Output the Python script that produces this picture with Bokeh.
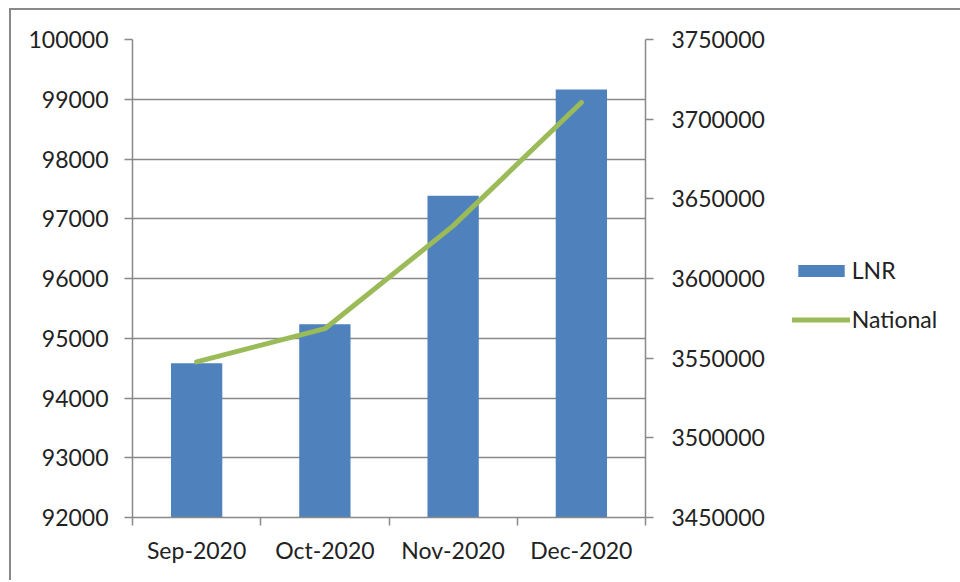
from bokeh.plotting import figure
from bokeh.models import (Range1d, LinearAxis, FixedTicker, BasicTickFormatter,
                          Legend, LegendItem, ColumnDataSource)
from bokeh.embed import file_html
from bokeh.resources import INLINE
import numpy as np

months = ["Sep-2020", "Oct-2020", "Nov-2020", "Dec-2020"]
lnr = [94580, 95235, 97385, 99165]
national = [3547700, 3568500, 3633000, 3710500]
left_ticks = [92000, 93000, 94000, 95000, 96000, 97000, 98000, 99000, 100000]
right_ticks = [3450000, 3500000, 3550000, 3600000, 3650000, 3700000, 3750000]

FONT = "Lato"
FS = "23px"
TXT = "#222222"
GRID = "#898989"
BAR = "#4F81BD"
LINE = "#9BBB59"

xpos = np.arange(len(months)) + 0.5
src = ColumnDataSource(dict(x=xpos, lnr=lnr, nat=national, m=months))

p = figure(frame_width=513, frame_height=478, output_backend="svg", toolbar_location=None,
           x_range=Range1d(0, len(months)),
           y_range=Range1d(left_ticks[0], left_ticks[-1]),
           min_border_left=121, min_border_right=0, min_border_top=29,
           min_border_bottom=63, x_axis_location=None, y_axis_location=None,
           styles={"margin": "8px 0 0 9px",
                   "border-left": f"2px solid {GRID}",
                   "border-top": f"2px solid {GRID}"})
p.outline_line_color = None
p.extra_y_ranges = {"nat": Range1d(right_ticks[0], right_ticks[-1])}

def style_axis(ax):
    ax.axis_line_color = GRID
    ax.axis_line_width = 1.5
    ax.major_tick_line_color = GRID
    ax.major_tick_line_width = 1.5
    ax.major_tick_in = 0
    ax.major_tick_out = 8
    ax.minor_tick_line_color = None
    ax.major_label_text_font = FONT
    ax.major_label_text_font_size = FS
    ax.major_label_text_color = TXT

left = LinearAxis(ticker=FixedTicker(ticks=left_ticks),
                  formatter=BasicTickFormatter(use_scientific=False))
style_axis(left)
left.major_label_standoff = 16
p.add_layout(left, "left")

right = LinearAxis(y_range_name="nat", ticker=FixedTicker(ticks=right_ticks),
                   formatter=BasicTickFormatter(use_scientific=False))
style_axis(right)
right.major_label_standoff = 18
p.add_layout(right, "right")

bounds = list(range(len(months) + 1))
bottom = LinearAxis(ticker=FixedTicker(ticks=list(xpos), minor_ticks=bounds),
                    major_label_overrides={float(x): m for x, m in zip(xpos, months)})
style_axis(bottom)
bottom.major_tick_line_color = None
bottom.minor_tick_line_color = GRID
bottom.minor_tick_line_width = 1.5
bottom.minor_tick_in = 0
bottom.minor_tick_out = 8
bottom.major_label_standoff = 10
p.add_layout(bottom, "below")

p.xgrid.visible = False
p.ygrid.ticker = FixedTicker(ticks=left_ticks)
p.ygrid.grid_line_color = GRID
p.ygrid.grid_line_width = 1.5

bars = p.vbar(x="x", top="lnr", bottom=left_ticks[0], width=0.4, source=src,
              fill_color=BAR, line_color=None)
ln = p.line(x="x", y="nat", source=src, y_range_name="nat", line_color=LINE,
            line_width=5, line_cap="round", line_join="round")

legend = Legend(items=[LegendItem(label="LNR", renderers=[bars]),
                       LegendItem(label="National", renderers=[ln])],
                location=(-197, 184), orientation="vertical",
                margin=0, padding=0, spacing=21,
                glyph_width=58, glyph_height=15, label_standoff=2,
                label_text_font=FONT, label_text_font_size=FS,
                label_text_color=TXT,
                border_line_color=None, background_fill_alpha=0)
p.add_layout(legend, "right")

open("out.html", "w").write(file_html(p, INLINE))
